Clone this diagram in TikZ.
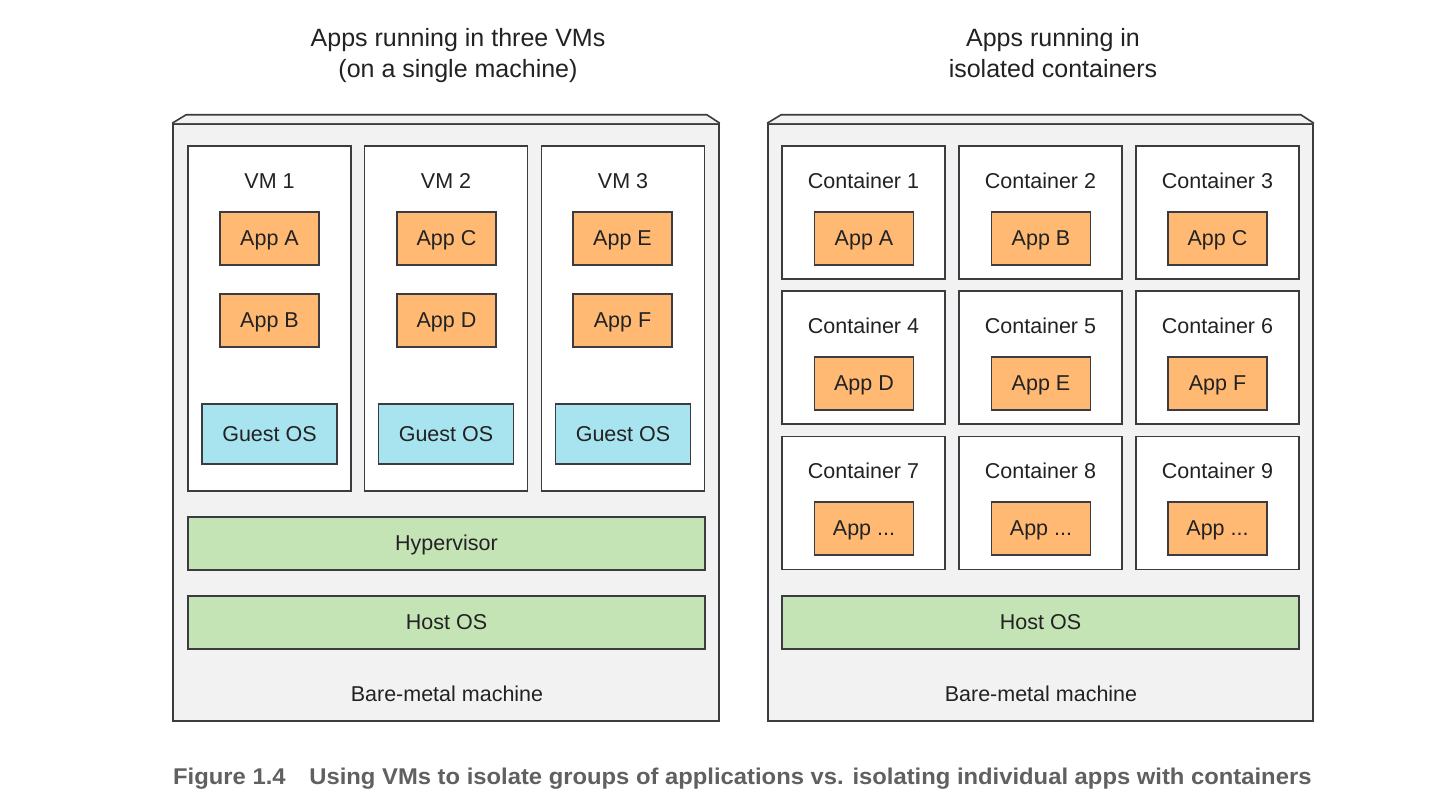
\documentclass[tikz,border=0pt]{standalone}
\usepackage{fontspec}
\setmainfont{Liberation Sans}
\newfontfamily\capfont{Liberation Sans}
\usepackage{graphicx}
\definecolor{appfill}{HTML}{FFB973}
\definecolor{guestfill}{HTML}{A8E4F0}
\definecolor{layerfill}{HTML}{C5E4B5}
\definecolor{machfill}{HTML}{F2F2F2}
\definecolor{edge}{HTML}{3C3C40}
\definecolor{txt}{HTML}{222222}
\definecolor{capgray}{HTML}{606060}
\tikzset{
  box/.style={draw=edge, line width=1.6pt, inner sep=0pt, text=txt,
    text height=15pt, text depth=0.5pt,
    font=\fontsize{21.5}{26}\selectfont},
  machine/.style={box, fill=machfill},
  vmbox/.style={box, fill=white},
  appbox/.style={box, fill=appfill, minimum width=99pt, minimum height=53pt},
  guestbox/.style={box, fill=guestfill, minimum width=135pt, minimum height=60pt},
  layerbox/.style={box, fill=layerfill, minimum width=517pt, minimum height=53pt},
  lbl/.style={inner sep=0pt, text=txt, text height=15pt, text depth=0.5pt,
    font=\fontsize{21.5}{26}\selectfont},
  ttl/.style={inner sep=0pt, text=txt, anchor=base, font=\fontsize{25}{31}\selectfont},
}
\begin{document}
\begin{tikzpicture}[x=1pt,y=-1pt]
\useasboundingbox (0,0) rectangle (1454,809);
\fill[white] (0,0) rectangle (1454,809);
% titles
\node[ttl] (t1a) at (458,46) {Apps running in three VMs};
\node[ttl] (t1b) at (458,77) {(on a single machine)};
\node[ttl] (t2a) at (1053,46) {Apps running in};
\node[ttl] (t2b) at (1053,77) {isolated containers};
% left machine
\node[machine, minimum width=546pt, minimum height=597pt] (m1) at (446,422.5) {};
\filldraw[fill=machfill, draw=edge, line width=1.6pt, line join=round]
  (m1.north west) -- ++(14,-8.5) -- ([xshift=-13pt,yshift=8.5pt]m1.north east) -- (m1.north east);
\foreach \i/\x in {1/269.5,2/446,3/623}{
  \node[vmbox, minimum width=163pt, minimum height=345pt] (vm\i) at (\x,318.5) {};
  \node[lbl] (vml\i) at (\x,181) {VM \i};
  \node[guestbox] (g\i) at (\x,434) {Guest OS};
}
\node[appbox] (aA) at (269.5,238.5) {App A};
\node[appbox] (aB) at (269.5,320.5) {App B};
\node[appbox] (aC) at (446.5,238.5) {App C};
\node[appbox] (aD) at (446.5,320.5) {App D};
\node[appbox] (aE) at (622.5,238.5) {App E};
\node[appbox] (aF) at (622.5,320.5) {App F};
\node[layerbox] (hyp) at (446.5,543.5) {Hypervisor};
\node[layerbox] (host1) at (446.5,622.5) {Host OS};
\node[lbl] (bm1) at (447,694) {Bare-metal machine};
% right machine
\node[machine, minimum width=545pt, minimum height=597pt] (m2) at (1040.5,422.5) {};
\filldraw[fill=machfill, draw=edge, line width=1.6pt, line join=round]
  (m2.north west) -- ++(14,-8.5) -- ([xshift=-13pt,yshift=8.5pt]m2.north east) -- (m2.north east);
\foreach \r/\cy/\ly in {0/212.5/181,1/357.5/326,2/503/471}{
  \foreach \c/\cx in {1/863.5,2/1040.5,3/1217.5}{
    \pgfmathtruncatemacro{\n}{3*\r+\c}
    \node[vmbox, minimum width=163pt, minimum height=133pt] (c\n) at (\cx,\cy) {};
    \node[lbl] (cl\n) at (\cx,\ly) {Container \n};
  }
}
\node[appbox] (cA) at (864,238.5) {App A};
\node[appbox] (cB) at (1041,238.5) {App B};
\node[appbox] (cC) at (1217.5,238.5) {App C};
\node[appbox] (cD) at (864,383.5) {App D};
\node[appbox] (cE) at (1041,383.5) {App E};
\node[appbox] (cF) at (1217.5,383.5) {App F};
\node[appbox] (cG) at (864,528.5) {App ...};
\node[appbox] (cH) at (1041,528.5) {App ...};
\node[appbox] (cI) at (1217.5,528.5) {App ...};
\node[layerbox] (host2) at (1040.5,622.5) {Host OS};
\node[lbl] (bm2) at (1041,694) {Bare-metal machine};
% caption
\node[anchor=base west, inner sep=0pt, text=capgray] (cap) at (173,784)
  {\resizebox{1138pt}{16.5pt}{\capfont\bfseries Figure 1.4\hspace{1em}Using VMs to isolate groups of applications vs. isolating individual apps with containers}};
\end{tikzpicture}
\end{document}
